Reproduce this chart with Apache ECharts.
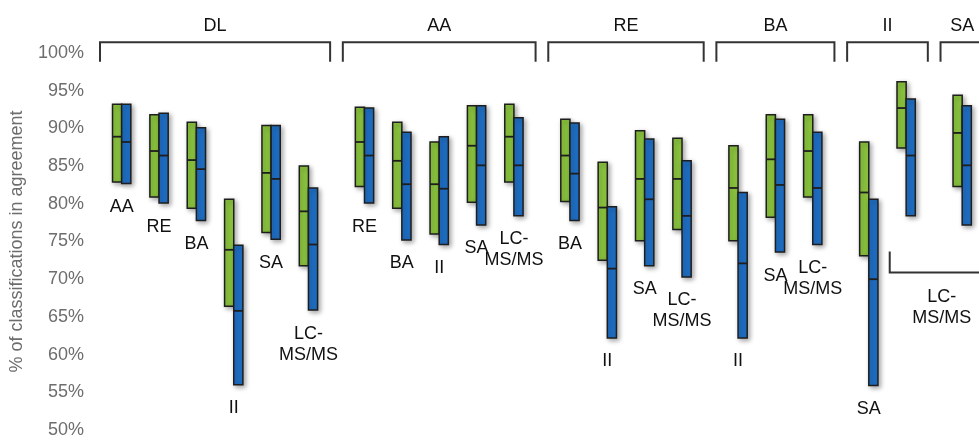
<!DOCTYPE html>
<html>
<head>
<meta charset="utf-8">
<script src="https://cdn.jsdelivr.net/npm/echarts@6/dist/echarts.min.js"></script>
<style>
html,body{margin:0;padding:0;background:#fff;}
#chart{width:979px;height:440px;}
</style>
</head>
<body>
<div id="chart"></div>
<script>
// ---- data ----
const groups = ['DL', 'AA', 'RE', 'BA', 'II', 'SA'];
const pairGroup = ['DL','DL','DL','DL','DL','DL','AA','AA','AA','AA','AA','RE','RE','RE','RE','BA','BA','BA','II','II','SA'];
const pairCategory = ['AA','RE','BA','II','SA','LC-MS/MS','RE','BA','II','SA','LC-MS/MS','BA','II','SA','LC-MS/MS','II','SA','LC-MS/MS','SA','LC-MS/MS','LC-MS/MS'];
const greenHigh   = [93.2,91.8,90.8,80.6,90.4,85.0, 92.8,90.8,88.2,93.0,93.2, 91.2,85.5,89.7,88.7, 87.7,91.8,91.8, 88.2,96.2, 94.4];
const greenMedian = [88.9,87.0,85.8,73.9,84.1,79.0, 88.2,85.7,82.6,87.7,88.9, 86.4,79.5,83.3,83.3, 82.1,85.9,87.0, 81.5,92.7, 89.4];
const greenLow    = [82.9,80.9,79.4,66.4,76.2,71.8, 82.3,79.4,76.0,80.2,82.9, 80.3,72.5,75.1,76.6, 75.1,78.2,80.9, 73.1,87.4, 82.3];
const blueHigh    = [93.2,92.0,90.1,74.5,90.4,82.1, 92.7,89.5,88.9,93.0,91.4, 90.7,79.6,88.6,85.7, 81.5,91.2,89.5, 80.6,93.9, 93.0];
const blueMedian  = [88.2,86.4,84.6,65.8,83.3,74.6, 86.4,82.6,82.0,85.1,85.1, 84.0,71.4,80.6,78.4, 72.1,82.5,82.1, 70.0,86.4, 85.1];
const blueLow     = [82.7,80.1,77.8,56.0,75.3,65.9, 80.1,75.2,74.6,77.2,78.4, 77.8,62.2,71.8,70.3, 62.2,73.6,74.6, 55.9,78.4, 77.2];
const sharedBracketGroups = ['II', 'SA'];
const sharedBracketCategory = 'LC-MS/MS';
const yMin = 50, yMax = 100, yStep = 5;
const yTitle = '% of classifications in agreement';

// ---- build ----
const GROUP_GAP = 0.5;
const xPos = pairGroup.map((g, i) => i + groups.indexOf(g) * GROUP_GAP);
const isShared = pairCategory.map((c, i) => c === sharedBracketCategory && sharedBracketGroups.includes(pairGroup[i]));
const pairData = xPos.map((x, i) => [x, greenLow[i], greenMedian[i], greenHigh[i], blueLow[i], blueMedian[i], blueHigh[i], i]);
const bracketData = groups.map((g, gi) => {
  const xs = xPos.filter((x, i) => pairGroup[i] === g);
  return [Math.min(...xs), Math.max(...xs), gi];
});
const sharedIdx = isShared.map((s, i) => s ? i : -1).filter(i => i >= 0);
const sharedData = [[xPos[sharedIdx[0]], Math.min(...sharedIdx.map(i => Math.min(greenLow[i], blueLow[i])))]];

const FONT = '"Liberation Sans", Arial, sans-serif';
const GREEN = '#8cc63f', BLUE = '#1f6fc5', EDGE = '#1e1e1e';
const fmtLabel = s => s.replace('LC-', 'LC-\n');

const chart = echarts.init(document.getElementById('chart'), null, {renderer: 'canvas'});
chart.setOption({
  animation: false,
  grid: {left: 101, right: 0, top: 53, bottom: 10},
  xAxis: {type: 'value', min: -0.5, max: 22.95, show: false},
  yAxis: {
    type: 'value', min: yMin, max: yMax, interval: yStep,
    axisLine: {show: false}, axisTick: {show: false}, splitLine: {show: false},
    axisLabel: {formatter: '{value}%', color: '#6d6d6d', fontSize: 18, fontFamily: FONT, margin: 19},
    name: yTitle, nameLocation: 'middle', nameGap: 77,
    nameTextStyle: {color: '#6d6d6d', fontSize: 18, fontFamily: FONT}
  },
  series: [
    {
      type: 'custom',
      data: pairData,
      clip: false,
      renderItem: function (params, api) {
        const x = api.value(0);
        const i = api.value(7);
        const w = api.size([0.245, 0])[0];
        const cx = api.coord([x, yMax])[0];
        function bar(x0, lo, med, hi, color) {
          const top = api.coord([x, hi])[1];
          const bot = api.coord([x, lo])[1];
          const m = api.coord([x, med])[1];
          return [
            {type: 'rect', shape: {x: x0, y: top, width: w, height: bot - top},
             style: {fill: color, stroke: EDGE, lineWidth: 1.5, shadowBlur: 5, shadowOffsetX: 2, shadowOffsetY: 2, shadowColor: 'rgba(0,0,0,0.35)'}},
            {type: 'line', shape: {x1: x0, y1: m, x2: x0 + w, y2: m}, style: {stroke: EDGE, lineWidth: 1.8}}
          ];
        }
        const children = [].concat(
          bar(cx - w, api.value(1), api.value(2), api.value(3), GREEN),
          bar(cx, api.value(4), api.value(5), api.value(6), BLUE)
        );
        if (!isShared[i]) {
          const low = Math.min(api.value(1), api.value(4));
          const by = api.coord([x, low])[1];
          children.push({type: 'text', style: {text: fmtLabel(pairCategory[i]), x: cx, y: by + 13, align: 'center', verticalAlign: 'top', fontSize: 18, fontFamily: FONT, fill: '#111', lineHeight: 21}});
        }
        return {type: 'group', children: children};
      }
    },
    {
      type: 'custom',
      data: bracketData,
      clip: false,
      renderItem: function (params, api) {
        const p1 = api.coord([api.value(0) - 0.58, yMax]);
        const p2 = api.coord([api.value(1) + 0.58, yMax]);
        const yTop = p1[1] - 10.7, yBot = p1[1] + 8.7;
        return {type: 'group', children: [
          {type: 'polyline', shape: {points: [[p1[0], yBot], [p1[0], yTop], [p2[0], yTop], [p2[0], yBot]]},
           style: {stroke: '#333', lineWidth: 2, fill: null}},
          {type: 'text', style: {text: groups[api.value(2)], x: (p1[0] + p2[0]) / 2, y: yTop - 16, align: 'center', verticalAlign: 'middle', fontSize: 18, fontFamily: FONT, fill: '#111'}}
        ]};
      }
    },
    {
      type: 'custom',
      data: sharedData,
      clip: false,
      renderItem: function (params, api) {
        const p = api.coord([api.value(0) - 0.44, api.value(1)]);
        const yA = p[1] + 26.7, yB = p[1] + 47.7;
        return {type: 'group', children: [
          {type: 'polyline', shape: {points: [[p[0], yA], [p[0], yB], [p[0] + 200, yB]]}, style: {stroke: '#333', lineWidth: 2, fill: null}},
          {type: 'text', style: {text: fmtLabel(sharedBracketCategory), x: p[0] + 52, y: yB + 14, align: 'center', verticalAlign: 'top', fontSize: 18, fontFamily: FONT, fill: '#111', lineHeight: 21}}
        ]};
      }
    }
  ]
});
</script>
</body>
</html>
